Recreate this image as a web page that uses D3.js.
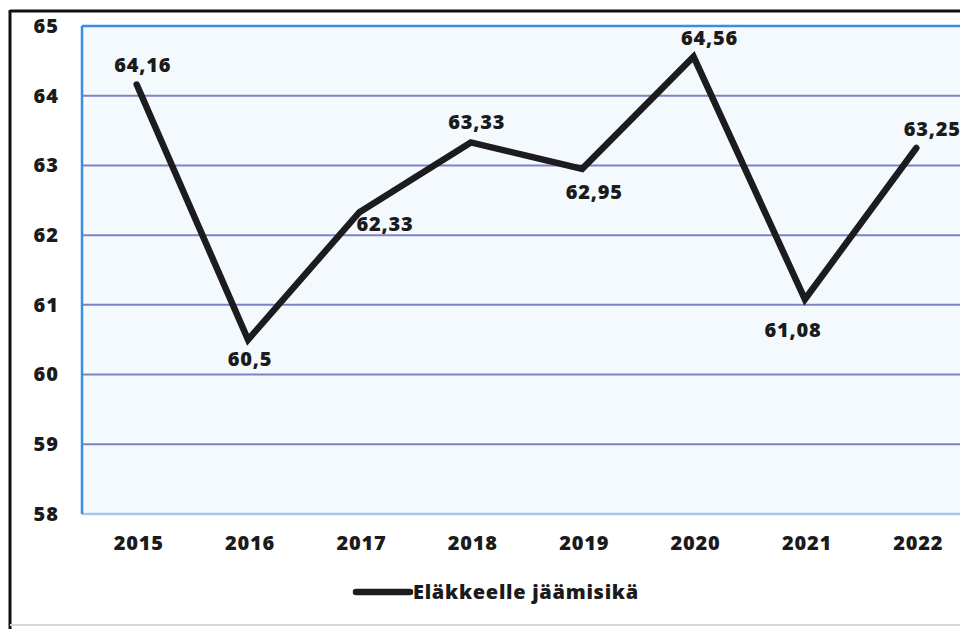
<!DOCTYPE html>
<html>
<head>
<meta charset="utf-8">
<script src="https://cdn.jsdelivr.net/npm/d3@7"></script>
<style>
  body { margin: 0; background: #fff; }
  text { font-family: "Open Sans", sans-serif; font-weight: 800; fill: #1b1b1b; }
</style>
</head>
<body>
<script>
// chart data
let years = ["2015", "2016", "2017", "2018", "2019", "2020", "2021", "2022"];
let retireAge = [64.16, 60.5, 62.33, 63.33, 62.95, 64.56, 61.08, 63.25];
let valueLabels = ["64,16", "60,5", "62,33", "63,33", "62,95", "64,56", "61,08", "63,25"];
let labelSide = ["above", "below", "right", "above", "belowRight", "aboveRight", "belowLeft", "aboveRight"];
let yTicks = [58, 59, 60, 61, 62, 63, 64, 65];
let seriesName = "Eläkkeelle jäämisikä";

let svgWidth = 960;
let svgHeight = 629;

let svg = d3.select("body")
    .append("svg")
    .attr("width", svgWidth)
    .attr("height", svgHeight);

// outer frame (scanned page edge)
svg.append("line").attr("x1", 10).attr("x2", 960).attr("y1", 11).attr("y2", 11)
    .attr("stroke", "#111").attr("stroke-width", 3);
svg.append("line").attr("x1", 10).attr("x2", 10).attr("y1", 10).attr("y2", 629)
    .attr("stroke", "#111").attr("stroke-width", 3);
svg.append("line").attr("x1", 10).attr("x2", 960).attr("y1", 625).attr("y2", 625)
    .attr("stroke", "#d8d8d8").attr("stroke-width", 2);

let plot = { left: 82, top: 26, right: 990, bottom: 514 };

let x = d3.scaleBand()
    .domain(years)
    .range([83, 974]);

let y = d3.scaleLinear()
    .domain([58, 65])
    .range([plot.bottom, plot.top]);

// plot background
svg.append("rect")
    .attr("x", plot.left).attr("y", plot.top)
    .attr("width", plot.right - plot.left).attr("height", plot.bottom - plot.top)
    .attr("fill", "#f4f9fd");

// gridlines
svg.append("g")
    .selectAll("line")
    .data(yTicks.filter(d => d > 58 && d < 65))
    .enter()
    .append("line")
    .attr("x1", plot.left).attr("x2", plot.right)
    .attr("y1", d => y(d)).attr("y2", d => y(d))
    .attr("stroke", "#7c82c6").attr("stroke-width", 2);

// plot border
svg.append("line").attr("x1", plot.left).attr("x2", plot.right)
    .attr("y1", y(65)).attr("y2", y(65))
    .attr("stroke", "#3b8de0").attr("stroke-width", 2.5);
svg.append("line").attr("x1", plot.left).attr("x2", plot.right)
    .attr("y1", y(58)).attr("y2", y(58))
    .attr("stroke", "#a9c6ee").attr("stroke-width", 2.5);
svg.append("line").attr("x1", plot.left).attr("x2", plot.left)
    .attr("y1", y(65)).attr("y2", y(58))
    .attr("stroke", "#3b8de0").attr("stroke-width", 2.5);

// y axis labels
let leftAxis = d3.axisLeft(y).tickValues(yTicks).tickSize(0).tickPadding(0).tickFormat(d3.format("d"));
let yAxisG = svg.append("g")
    .attr("transform", "translate(59,0)")
    .call(leftAxis);
yAxisG.select(".domain").remove();
yAxisG.selectAll("text")
    .attr("font-size", 20)
    .attr("font-family", null)
    .style("letter-spacing", "1px")
    .attr("fill", "#1b1b1b");

// x axis labels
let bottomAxis = d3.axisBottom(x).tickSize(0).tickPadding(0);
let xAxisG = svg.append("g")
    .attr("transform", "translate(0,536)")
    .call(bottomAxis);
xAxisG.select(".domain").remove();
xAxisG.selectAll("text")
    .attr("font-size", 20)
    .attr("font-family", null)
    .style("letter-spacing", "0.8px")
    .attr("fill", "#1b1b1b");

// series line
let cx = d => x(d) + x.bandwidth() / 2;
let points = years.map((yr, i) => [cx(yr) - 2, y(retireAge[i])]);

svg.append("path")
    .datum(points)
    .attr("d", d3.line())
    .attr("fill", "none")
    .attr("stroke", "#1c1c1f")
    .attr("stroke-width", 6.5)
    .attr("stroke-linejoin", "miter")
    .attr("stroke-linecap", "round");

// value labels
let sideOffset = {
    above: { dx: 6, dy: -13, anchor: "middle" },
    aboveRight: { dx: 16, dy: -12, anchor: "middle" },
    below: { dx: 2, dy: 26, anchor: "middle" },
    belowRight: { dx: 12, dy: 30, anchor: "middle" },
    belowLeft: { dx: -12, dy: 38, anchor: "middle" },
    right: { dx: -3, dy: 19, anchor: "start" }
};

svg.append("g")
    .selectAll("text")
    .data(points)
    .enter()
    .append("text")
    .attr("x", (d, i) => d[0] + sideOffset[labelSide[i]].dx)
    .attr("y", (d, i) => d[1] + sideOffset[labelSide[i]].dy)
    .attr("text-anchor", (d, i) => sideOffset[labelSide[i]].anchor)
    .attr("font-size", 20)
    .style("letter-spacing", "0.8px")
    .text((d, i) => valueLabels[i]);

// legend
let legend = svg.append("g").attr("transform", "translate(356,592)");
legend.append("line")
    .attr("x1", 0).attr("x2", 54).attr("y1", 0).attr("y2", 0)
    .attr("stroke", "#1c1c1f").attr("stroke-width", 6.5)
    .attr("stroke-linecap", "round");
legend.append("text")
    .attr("x", 57).attr("y", 7)
    .attr("font-size", 20)
    .style("letter-spacing", "0.7px")
    .text(seriesName);
</script>
</body>
</html>
